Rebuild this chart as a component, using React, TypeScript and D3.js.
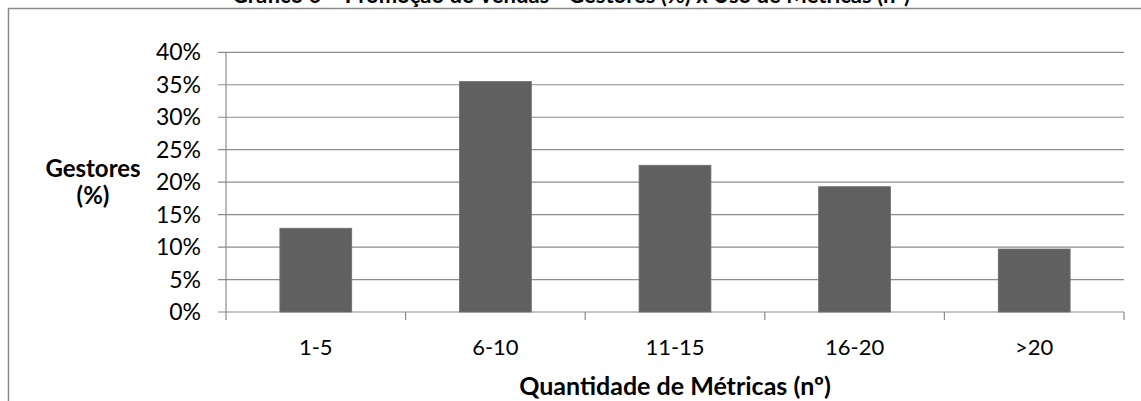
import React from "react";
import * as d3 from "d3";

const categories: string[] = ["1-5", "6-10", "11-15", "16-20", ">20"];
const values: number[] = [0.129, 0.355, 0.226, 0.193, 0.097];
const yTicks: number[] = [0, 0.05, 0.1, 0.15, 0.2, 0.25, 0.3, 0.35, 0.4];
const title = "Gráfico 6 – Promoção de Vendas - Gestores (%) x Uso de Métricas (nº)";
const yTitle: string[] = ["Gestores", "(%)"];
const xTitle = "Quantidade de Métricas (nº)";

const W = 1141;
const H = 401;
const FONT = "Lato, 'Open Sans', sans-serif";

export default function App() {
  const left = 226;
  const right = 1124;
  const top = 52.3;
  const bottom = 312;
  const x = d3.scaleBand<string>().domain(categories).range([left, right]).paddingInner(0.6).paddingOuter(0.3);
  const y = d3.scaleLinear().domain([0, 0.4]).range([bottom, top]);
  const step = x.step();
  const fmt = d3.format(".0%");
  const grid = "#8c8c8c";
  return (
    <svg width={W} height={H} style={{ position: "absolute", left: 0, top: 0, display: "block" }}>
      <rect x={0} y={0} width={W} height={H} fill="#fff" />
      <rect x={8.5} y={8.5} width={W + 20} height={H + 20} fill="none" stroke="#8a8a8a" strokeWidth={1.5} />
      <text x={571} y={3} textAnchor="middle" fontFamily={FONT} fontWeight="bold" fontSize={22} fill="#000">
        {title}
      </text>
      {yTicks.map((t) => (
        <g key={t}>
          <line x1={left - 8} x2={right} y1={y(t)} y2={y(t)} stroke={grid} strokeWidth={1.2} />
          <text x={201} y={y(t) + 8} textAnchor="end" fontFamily={FONT} fontSize={23} fill="#000">
            {fmt(t)}
          </text>
        </g>
      ))}
      <line x1={left} x2={left} y1={top} y2={bottom + 8} stroke={grid} strokeWidth={1.2} />
      {categories.map((c, i) => (
        <line key={"t" + c} x1={left + step * (i + 1)} x2={left + step * (i + 1)} y1={bottom} y2={bottom + 8} stroke={grid} strokeWidth={1.2} />
      ))}
      {categories.map((c, i) => (
        <rect key={c} x={x(c)} y={y(values[i])} width={x.bandwidth()} height={bottom - y(values[i])} fill="#606060" stroke="#6e6e6e" strokeWidth={0.8} />
      ))}
      {categories.map((c) => (
        <text key={"l" + c} x={(x(c) as number) + x.bandwidth() / 2} y={355} textAnchor="middle" fontFamily={FONT} fontSize={22} fill="#000">
          {c}
        </text>
      ))}
      <text x={(left + right) / 2} y={395} textAnchor="middle" fontFamily={FONT} fontWeight="bold" fontSize={25} fill="#000">
        {xTitle}
      </text>
      {yTitle.map((t, i) => (
        <text key={t} x={93} y={177 + i * 27} textAnchor="middle" fontFamily={FONT} fontWeight="bold" fontSize={24} fill="#000">
          {t}
        </text>
      ))}
    </svg>
  );
}
